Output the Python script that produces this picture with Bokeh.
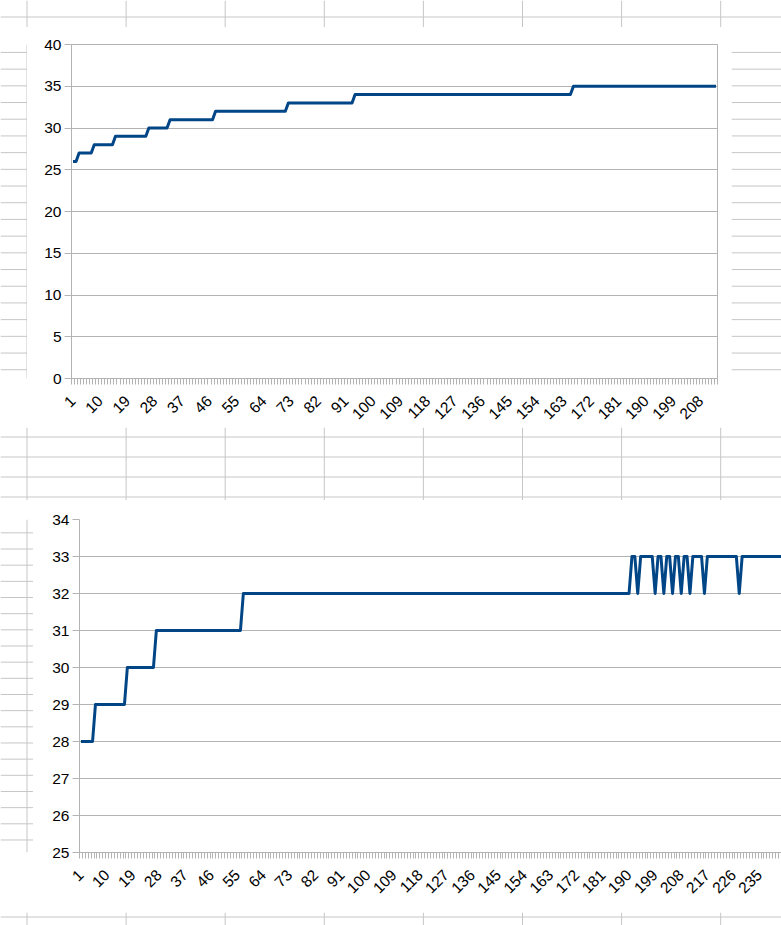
import math
from bokeh.plotting import figure
from bokeh.models import Range1d, FixedTicker
from bokeh.layouts import column, row
from bokeh.embed import file_html
from bokeh.resources import INLINE

# ---------------- data ----------------
# upper chart: value and number of consecutive categories holding it
top_values = [26, 27, 28, 29, 30, 31, 32, 33, 34, 35]
top_runs = [2, 5, 7, 11, 7, 15, 24, 22, 72, 48]
top_x_labels = [1, 10, 19, 28, 37, 46, 55, 64, 73, 82, 91, 100, 109, 118, 127,
                136, 145, 154, 163, 172, 181, 190, 199, 208]
top_y_ticks = [0, 5, 10, 15, 20, 25, 30, 35, 40]

# lower chart
bottom_values = [28, 29, 30, 31, 32, 33, 32, 33, 32, 33, 32, 33, 32, 33, 32, 33,
                 32, 33, 32, 33, 32, 33]
bottom_runs = [5, 11, 10, 30, 134, 2, 1, 5, 1, 2, 1, 2, 1, 2, 1, 2, 1, 4, 1, 11, 1, 16]
bottom_x_labels = [1, 10, 19, 28, 37, 46, 55, 64, 73, 82, 91, 100, 109, 118, 127,
                   136, 145, 154, 163, 172, 181, 190, 199, 208, 217, 226, 235, 244]
bottom_y_ticks = [25, 26, 27, 28, 29, 30, 31, 32, 33, 34]


def expand(values, runs):
    out = []
    for v, n in zip(values, runs):
        out.extend([v] * n)
    return out


top_y = expand(top_values, top_runs)
top_x = list(range(1, len(top_y) + 1))
bottom_y = expand(bottom_values, bottom_runs)
bottom_x = list(range(1, len(bottom_y) + 1))

# ---------------- styling ----------------
SERIES = "#004586"
AXIS_GRAY = "#b3b3b3"
SHEET_GRAY = "#c6c6c6"
FONT = "Liberation Sans"
FSIZE = "15.5px"

# spreadsheet background grid (page pixel positions)
COL_X = [26.5 + 99.1 * k for k in range(8)]
ROW_Y = [16.5 + 20 * k for k in range(47)]

PAGE_X0, PAGE_X1 = 0, 781


def sheet_piece(x0, x1, y0, y1):
    p = figure(width=x1 - x0, height=y1 - y0,
               x_range=Range1d(x0, x1), y_range=Range1d(y1, y0),
               toolbar_location=None, output_backend="svg",
               x_axis_location=None, y_axis_location=None,
               min_border=0)
    p.grid.visible = False
    p.outline_line_color = None
    p.background_fill_color = "white"
    p.border_fill_color = "white"
    xs = [c for c in COL_X if x0 <= c <= x1]
    ys = [r for r in ROW_Y if y0 <= r <= y1]
    if xs:
        p.segment(x0=xs, y0=[y0] * len(xs), x1=xs, y1=[y1] * len(xs),
                  line_color=SHEET_GRAY, line_width=1)
    if ys:
        p.segment(x0=[x0] * len(ys), y0=ys, x1=[x1] * len(ys), y1=ys,
                  line_color=SHEET_GRAY, line_width=1)
    return p


def chart(xs, ys, x_labels, y_ticks, width, height, x_end, borders, outline):
    left, right, top, bottom = borders
    p = figure(width=width, height=height,
               x_range=Range1d(0.5, x_end),
               y_range=Range1d(y_ticks[0], y_ticks[-1]),
               toolbar_location=None, output_backend="svg",
               min_border_left=left, min_border_right=right,
               min_border_top=top, min_border_bottom=bottom)
    p.background_fill_color = "white"
    p.border_fill_color = "white"
    p.outline_line_color = AXIS_GRAY if outline else None
    p.line(xs, ys, line_color=SERIES, line_width=3, line_join="round")

    xt = FixedTicker(ticks=x_labels, minor_ticks=[i + 0.5 for i in range(0, len(xs) + 1)])
    p.xaxis.ticker = xt
    p.xaxis.major_label_orientation = math.pi / 4
    p.xaxis.major_tick_line_color = None
    p.xaxis.major_tick_out = 6
    p.xaxis.major_tick_in = 0
    p.xaxis.minor_tick_out = 6
    p.xaxis.minor_tick_in = 0
    p.xaxis.minor_tick_line_color = AXIS_GRAY
    p.xaxis.axis_line_color = AXIS_GRAY
    p.xaxis.major_label_standoff = 14
    p.xgrid.visible = False

    yt = FixedTicker(ticks=y_ticks)
    p.yaxis.ticker = yt
    p.ygrid.ticker = yt
    p.yaxis.major_tick_out = 7
    p.yaxis.major_tick_in = 0
    p.yaxis.major_tick_line_color = AXIS_GRAY
    p.yaxis.minor_tick_line_color = None
    p.yaxis.axis_line_color = AXIS_GRAY
    p.yaxis.major_label_standoff = 3
    p.ygrid.grid_line_color = AXIS_GRAY

    for ax in (p.xaxis, p.yaxis):
        ax.major_label_text_font = FONT
        ax.major_label_text_font_size = FSIZE
        ax.major_label_text_color = "black"
    return p


# upper chart: white box 27..731 x 27..427 (page px), frame 71..717 x 44..378
top_chart = chart(top_x, top_y, top_x_labels, top_y_ticks,
                  width=704, height=400, x_end=len(top_x) + 0.5,
                  borders=(44, 14, 17, 49), outline=True)

# lower chart: white box 33..781 x 500..912, frame 79..781 x 519..852
px_per_cat = 2.9
chart2_w = 748
frame2_w = chart2_w - 46
bottom_chart = chart(bottom_x, bottom_y, bottom_x_labels, bottom_y_ticks,
                     width=chart2_w, height=412, x_end=0.5 + frame2_w / px_per_cat,
                     borders=(46, 0, 19, 60), outline=False)

layout = column(
    sheet_piece(PAGE_X0, PAGE_X1, 0, 27),
    row(sheet_piece(0, 27, 27, 427), top_chart, sheet_piece(731, 781, 27, 427)),
    sheet_piece(PAGE_X0, PAGE_X1, 427, 500),
    row(sheet_piece(0, 33, 500, 912), bottom_chart),
    sheet_piece(PAGE_X0, PAGE_X1, 912, 925),
)

open("out.html", "w").write(file_html(layout, INLINE))
